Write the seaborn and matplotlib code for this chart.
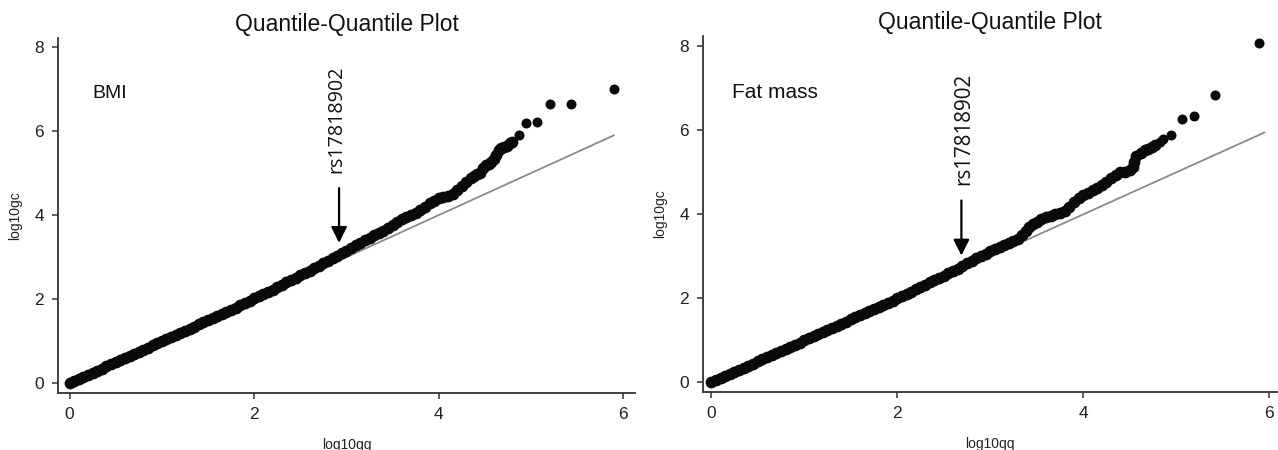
import matplotlib
matplotlib.use('Agg')
import matplotlib.pyplot as plt
import seaborn as sns
import pandas as pd

bmi_qq = [0.00, 0.05, 0.10, 0.15, 0.20, 0.25, 0.30, 0.35, 0.40, 0.45, 0.50, 0.55, 0.60, 0.65, 0.70, 0.75,
          0.80, 0.85, 0.90, 0.95, 1.00, 1.05, 1.10, 1.15, 1.20, 1.25, 1.30, 1.35, 1.40, 1.45, 1.50, 1.55,
          1.60, 1.65, 1.70, 1.75, 1.80, 1.85, 1.90, 1.95, 2.00, 2.05, 2.10, 2.15, 2.20, 2.25, 2.30, 2.35,
          2.40, 2.45, 2.50, 2.55, 2.60, 2.65, 2.70, 2.75, 2.80, 2.85, 2.90, 2.95, 3.00, 3.05, 3.10, 3.15,
          3.20, 3.25, 3.30, 3.35, 3.40, 3.45, 3.50, 3.55, 3.60, 3.65, 3.70, 3.75, 3.80, 3.85, 3.90, 3.95,
          4.00, 4.05, 4.10, 4.15, 4.20, 4.25, 4.30, 4.35, 4.38, 4.42, 4.45, 4.48, 4.51, 4.54, 4.57, 4.60,
          4.62, 4.65, 4.68, 4.71, 4.74, 4.77, 4.79, 4.87, 4.95, 5.07, 5.21, 5.43, 5.90]
bmi_gc = [0.00, 0.05, 0.10, 0.15, 0.20, 0.25, 0.30, 0.35, 0.40, 0.45, 0.50, 0.55, 0.60, 0.65, 0.70, 0.75,
          0.80, 0.85, 0.90, 0.95, 1.00, 1.05, 1.10, 1.15, 1.20, 1.25, 1.30, 1.35, 1.40, 1.45, 1.50, 1.55,
          1.60, 1.65, 1.70, 1.75, 1.80, 1.86, 1.91, 1.96, 2.02, 2.07, 2.12, 2.18, 2.23, 2.29, 2.34, 2.40,
          2.45, 2.51, 2.57, 2.62, 2.68, 2.74, 2.79, 2.85, 2.91, 2.97, 3.03, 3.09, 3.15, 3.22, 3.28, 3.34,
          3.40, 3.46, 3.52, 3.57, 3.63, 3.69, 3.76, 3.83, 3.90, 3.95, 4.00, 4.06, 4.13, 4.20, 4.28, 4.34,
          4.40, 4.44, 4.45, 4.50, 4.59, 4.70, 4.79, 4.88, 4.94, 4.97, 5.00, 5.12, 5.19, 5.22, 5.26, 5.33,
          5.44, 5.55, 5.60, 5.62, 5.65, 5.71, 5.75, 5.90, 6.20, 6.21, 6.64, 6.64, 6.99]

fat_qq = [0.00, 0.05, 0.10, 0.15, 0.20, 0.25, 0.30, 0.35, 0.40, 0.45, 0.50, 0.55, 0.60, 0.65, 0.70, 0.75,
          0.80, 0.85, 0.90, 0.95, 1.00, 1.05, 1.10, 1.15, 1.20, 1.25, 1.30, 1.35, 1.40, 1.45, 1.50, 1.55,
          1.60, 1.65, 1.70, 1.75, 1.80, 1.85, 1.90, 1.95, 2.00, 2.05, 2.10, 2.15, 2.20, 2.25, 2.30, 2.35,
          2.40, 2.45, 2.50, 2.55, 2.60, 2.65, 2.70, 2.75, 2.80, 2.85, 2.90, 2.95, 3.00, 3.05, 3.10, 3.15,
          3.20, 3.25, 3.30, 3.34, 3.38, 3.42, 3.46, 3.50, 3.55, 3.60, 3.65, 3.70, 3.75, 3.80, 3.85, 3.90,
          3.95, 4.00, 4.05, 4.10, 4.15, 4.20, 4.25, 4.30, 4.35, 4.40, 4.45, 4.50, 4.53, 4.55, 4.57, 4.62,
          4.66, 4.70, 4.74, 4.77, 4.82, 4.86, 4.94, 5.06, 5.19, 5.42, 5.89]
fat_gc = [0.00, 0.05, 0.10, 0.15, 0.20, 0.25, 0.30, 0.35, 0.40, 0.45, 0.50, 0.55, 0.60, 0.65, 0.70, 0.75,
          0.80, 0.85, 0.90, 0.95, 1.00, 1.05, 1.10, 1.15, 1.20, 1.25, 1.30, 1.35, 1.40, 1.45, 1.50, 1.55,
          1.60, 1.65, 1.70, 1.75, 1.80, 1.85, 1.90, 1.95, 2.00, 2.06, 2.11, 2.16, 2.22, 2.27, 2.32, 2.38,
          2.43, 2.49, 2.54, 2.60, 2.66, 2.71, 2.77, 2.84, 2.89, 2.95, 3.00, 3.06, 3.12, 3.17, 3.22, 3.27,
          3.32, 3.37, 3.42, 3.50, 3.60, 3.70, 3.77, 3.83, 3.89, 3.93, 3.96, 4.00, 4.04, 4.09, 4.18, 4.30,
          4.39, 4.45, 4.52, 4.58, 4.63, 4.69, 4.77, 4.86, 4.94, 5.00, 5.02, 5.05, 5.12, 5.24, 5.40, 5.47,
          5.52, 5.56, 5.61, 5.66, 5.72, 5.80, 5.90, 6.27, 6.34, 6.85, 8.08]

# null expectation lines
bmi_ref = [0.0, 5.9]
fat_ref = [0.0, 5.95]

panel_names = ['BMI', 'Fat mass']
snp_label = 'rs17818902'
x_ticks = [0, 2, 4, 6]
y_ticks = [0, 2, 4, 6, 8]

sns.set_style('ticks')
plt.rcParams['font.family'] = ['Liberation Sans', 'DejaVu Sans']

fig = plt.figure(figsize=(12.78, 4.5), dpi=100)
ax1 = fig.add_axes([0.0454, 0.1273, 0.4515, 0.788])
ax2 = fig.add_axes([0.5498, 0.1296, 0.4502, 0.790])

panels = [
    (ax1, bmi_qq, bmi_gc, bmi_ref, (-0.125, 6.127), (-0.224, 8.21), (0.25, 6.78), 14,
     (2.92, 4.64, 3.34), (2.89, 5.0), 14.2),
    (ax2, fat_qq, fat_gc, fat_ref, (-0.092, 6.094), (-0.219, 8.24), (0.22, 6.77), 15,
     (2.69, 4.33, 3.02), (2.71, 4.69), 14.9),
]

for i, (ax, qq, gc, ref, xl, yl, lab_pos, lab_size, arr, txt_pos, txt_size) in enumerate(panels):
    df = pd.DataFrame({'log10qq': qq, 'log10gc': gc})
    # the heavy overplotted band is drawn a bit fatter than the isolated tail dots
    dense = df['log10qq'] < 4.8
    sns.lineplot(x=ref, y=ref, ax=ax, color='#8a8a8a', linewidth=1.3, zorder=1)
    sns.scatterplot(data=df[dense], x='log10qq', y='log10gc', ax=ax, color='#0a0a0a',
                    s=72, linewidth=0, zorder=2)
    sns.scatterplot(data=df[~dense], x='log10qq', y='log10gc', ax=ax, color='#0a0a0a',
                    s=52, linewidth=0, zorder=2)
    ax.set_xlim(*xl)
    ax.set_ylim(*yl)
    ax.set_xticks(x_ticks)
    ax.set_yticks(y_ticks)
    ax.tick_params(labelsize=12.5, length=4, width=1.1, color='#333333',
                   labelcolor='#222222', pad=6)
    ax.set_xlabel('log10qq', fontsize=10, labelpad=12, color='#222222')
    ax.set_ylabel('log10gc', fontsize=10, labelpad=9, color='#222222')
    ax.set_title('Quantile-Quantile Plot', fontsize=16.5, pad=5, color='#111111')
    sns.despine(ax=ax)
    for sp in ['left', 'bottom']:
        ax.spines[sp].set_color('#333333')
        ax.spines[sp].set_linewidth(1.3)
    ax.text(lab_pos[0], lab_pos[1], panel_names[i], fontsize=lab_size, color='#111111',
            ha='left', va='baseline')
    ax.annotate('', xy=(arr[0], arr[2]), xytext=(arr[0], arr[1]),
                arrowprops=dict(arrowstyle='-|>', color='black', lw=1.6,
                                mutation_scale=24, shrinkA=0, shrinkB=0))
    ax.text(txt_pos[0], txt_pos[1], snp_label, rotation=90, ha='center', va='bottom',
            fontsize=txt_size, family=['Open Sans', 'DejaVu Sans'], color='#111111')

fig.savefig('out.png', dpi=100)
